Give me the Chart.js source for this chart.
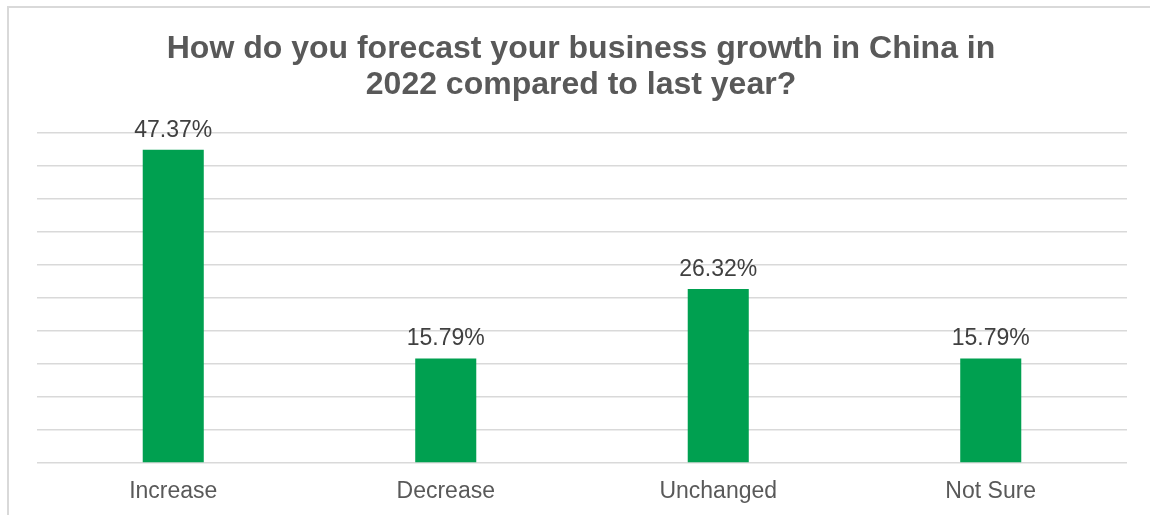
<!DOCTYPE html>
<html>
<head>
<meta charset="utf-8">
<script src="https://cdn.jsdelivr.net/npm/chart.js@4/dist/chart.umd.min.js"></script>
<style>
    html, body { margin: 0; padding: 0; background: #fff; overflow: hidden; }
    #wrap { position: relative; width: 1150px; height: 515px; }
    #frame {
        position: absolute; left: 7px; top: 6px; width: 1160px; height: 530px;
        border: 2px solid #d9d9d9; box-sizing: border-box;
    }
    #chart { position: absolute; left: 0; top: 0; }
</style>
</head>
<body>
<div id="wrap">
    <div id="frame"></div>
    <canvas id="chart" width="1150" height="515"></canvas>
</div>
<script>
// ── growth forecast survey — single-series column chart ──────────────────────

var categories = ['Increase', 'Decrease', 'Unchanged', 'Not Sure'];
var shares = [47.37, 15.79, 26.32, 15.79];
var titleLines = ['How do you forecast your business growth in China in', '2022 compared to last year?'];

const textColor = '#595959';
const gridColor = '#d9d9d9';
const barColor = '#00a050';
const fontFamily = '"Liberation Sans", Arial, sans-serif';

// value labels above each column (no datalabels plugin available offline)
const valueLabels = {
    id: 'valueLabels',
    afterDatasetsDraw(chart) {
        const ctx = chart.ctx;
        const meta = chart.getDatasetMeta(0);
        ctx.save();
        ctx.font = '23px ' + fontFamily;
        ctx.fillStyle = '#404040';
        ctx.textAlign = 'center';
        ctx.textBaseline = 'bottom';
        meta.data.forEach((bar, i) => {
            ctx.fillText(shares[i].toFixed(2) + '%', bar.x, bar.y - 8);
        });
        ctx.restore();
    }
};

const ctx = document.getElementById('chart').getContext('2d');
new Chart(ctx, {
    type: 'bar',
    data: {
        labels: categories,
        datasets: [{
            data: shares,
            backgroundColor: barColor,
            borderWidth: 0,
            barPercentage: 0.224,
            categoryPercentage: 1.0
        }]
    },
    options: {
        animation: false,
        responsive: false,
        layout: { padding: { left: 35, right: 23, top: 32, bottom: 0 } },
        plugins: {
            legend: { display: false },
            tooltip: { enabled: false },
            title: {
                display: true,
                text: titleLines,
                color: textColor,
                font: { family: fontFamily, size: 32, weight: 'bold', lineHeight: 1.1 },
                padding: { top: 0, bottom: 30 }
            }
        },
        scales: {
            x: {
                afterFit: axis => { axis.height = 52; },
                grid: { display: false, drawTicks: false },
                border: { display: false },
                ticks: {
                    color: textColor,
                    padding: 15,
                    font: { family: fontFamily, size: 23 }
                }
            },
            y: {
                min: 0,
                max: 50,
                afterFit: axis => { axis.width = 2; },
                ticks: { display: false, stepSize: 5 },
                border: { display: false },
                grid: { color: gridColor, lineWidth: 1.5, drawTicks: false }
            }
        }
    },
    plugins: [valueLabels]
});
</script>
</body>
</html>
